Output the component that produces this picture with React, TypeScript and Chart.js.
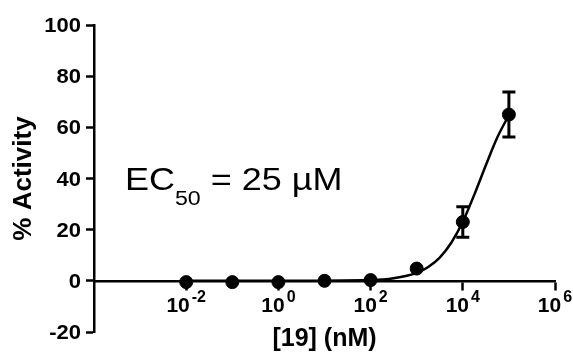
import React, { useEffect, useRef } from 'react';
import { Chart, registerables } from 'chart.js';

Chart.register(...registerables);

// Measured data (concentration in nM, % activity)
const concentrations = [1e-2, 1e-1, 1e0, 1e1, 1e2, 1e3, 1e4, 1e5];
const activity = [-0.5, -0.5, -0.5, 0, 0.3, 4.8, 23, 65];
const activityErr = [0, 0, 0, 0, 0, 0, 6, 8.8];

// Fitted curve
const curveX = [1e-2, 1e0, 1e2, 316, 1e3, 1778, 3162, 5623, 1e4, 17783, 31623, 56234, 1e5];
const curveY = [0, 0, 0.3, 1.0, 3.1, 5.4, 9.1, 14.9, 23.1, 33.7, 45.2, 56.1, 64.8];

// Axis ticks
const xTickValues = [1e-2, 1e0, 1e2, 1e4, 1e6];
const xTickExponents = ['-2', '0', '2', '4', '6'];
const yTickValues = [-20, 0, 20, 40, 60, 80, 100];

const xTitle = '[19] (nM)';
const yTitle = '% Activity';
const annotationMain = 'EC';
const annotationSub = '50';
const annotationRest = ' = 25 µM';

const FONT = '"Liberation Sans", Arial, Helvetica, sans-serif';

function scaledText(ctx: CanvasRenderingContext2D, text: string, x: number, y: number, sx: number) {
  ctx.save();
  ctx.translate(x, y);
  ctx.scale(sx, 1);
  ctx.fillText(text, 0, 0);
  ctx.restore();
}

const overlayPlugin = {
  id: 'overlay',
  afterDatasetsDraw(chart: any) {
    const ctx = chart.ctx;
    const xs = chart.scales.x;
    const ys = chart.scales.y;
    ctx.save();
    ctx.strokeStyle = '#000';
    ctx.lineWidth = 3;
    concentrations.forEach((c, i) => {
      const e = activityErr[i];
      if (!e) return;
      const px = xs.getPixelForValue(c);
      const top = ys.getPixelForValue(activity[i] + e);
      const bot = ys.getPixelForValue(activity[i] - e);
      ctx.beginPath();
      ctx.moveTo(px, top);
      ctx.lineTo(px, bot);
      ctx.moveTo(px - 6.5, top);
      ctx.lineTo(px + 6.5, top);
      ctx.moveTo(px - 6.5, bot);
      ctx.lineTo(px + 6.5, bot);
      ctx.stroke();
    });
    ctx.restore();
  },
  afterDraw(chart: any) {
    const ctx = chart.ctx;
    const xs = chart.scales.x;
    const ys = chart.scales.y;
    const area = chart.chartArea;
    ctx.save();
    ctx.fillStyle = '#000';
    ctx.textBaseline = 'alphabetic';

    // y tick labels
    ctx.font = `bold 20px ${FONT}`;
    ctx.textAlign = 'right';
    ys.ticks.forEach((t: any) => {
      scaledText(ctx, String(t.value), area.left - 13, ys.getPixelForValue(t.value) + 7, 1.1);
    });

    // x tick labels with superscripts
    const axisY = ys.getPixelForValue(0);
    xs.ticks.forEach((t: any, i: number) => {
      const px = xs.getPixelForValue(t.value);
      ctx.font = `bold 21px ${FONT}`;
      const w1 = ctx.measureText('10').width;
      ctx.font = `bold 16px ${FONT}`;
      const exp = xTickExponents[i];
      const w2 = ctx.measureText(exp).width + 2;
      const start = px - (w1 + w2) / 2;
      ctx.textAlign = 'left';
      ctx.font = `bold 21px ${FONT}`;
      ctx.fillText('10', start, axisY + 31);
      ctx.font = `bold 16px ${FONT}`;
      ctx.fillText(exp, start + w1 + 2, axisY + 21);
    });

    // axis titles
    ctx.font = `bold 25px ${FONT}`;
    ctx.textAlign = 'center';
    ctx.fillText(xTitle, (area.left + area.right) / 2, 346);
    ctx.save();
    ctx.translate(31, (area.top + area.bottom) / 2);
    ctx.rotate(-Math.PI / 2);
    ctx.font = `bold 26px ${FONT}`;
    ctx.fillText(yTitle, 0, 0);
    ctx.restore();

    // EC50 annotation
    ctx.save();
    ctx.textAlign = 'left';
    ctx.translate(125, 0);
    ctx.scale(1.16, 1);
    let ax = 0;
    ctx.font = `31px ${FONT}`;
    ctx.fillText(annotationMain, ax, 190);
    ax += ctx.measureText(annotationMain).width;
    ctx.font = `20px ${FONT}`;
    ctx.fillText(annotationSub, ax, 205);
    ax += ctx.measureText(annotationSub).width;
    ctx.font = `31px ${FONT}`;
    ctx.fillText(annotationRest, ax, 190);
    ctx.restore();

    ctx.restore();
  },
};

export default function App() {
  const canvasRef = useRef<HTMLCanvasElement | null>(null);

  useEffect(() => {
    const canvas = canvasRef.current;
    if (!canvas) return;
    const chart = new Chart(canvas, {
      type: 'scatter',
      data: {
        datasets: [
          {
            type: 'line',
            data: curveX.map((x, i) => ({ x, y: curveY[i] })),
            borderColor: '#000',
            borderWidth: 2.5,
            pointRadius: 0,
            cubicInterpolationMode: 'monotone',
            fill: false,
            order: 2,
          } as any,
          {
            type: 'scatter',
            data: concentrations.map((x, i) => ({ x, y: activity[i] })),
            pointRadius: 6.5,
            pointHoverRadius: 6.5,
            backgroundColor: '#000',
            borderColor: '#000',
            order: 1,
          },
        ],
      },
      options: {
        animation: false,
        responsive: false,
        layout: { padding: { top: 25, right: 18, bottom: 20, left: 0 } },
        plugins: { legend: { display: false }, tooltip: { enabled: false } },
        scales: {
          x: {
            type: 'logarithmic',
            min: 1e-4,
            max: 1e6,
            position: { y: 0 } as any,
            afterBuildTicks: (s: any) => {
              s.ticks = xTickValues.map((v) => ({ value: v }));
            },
            ticks: { display: false },
            grid: { drawOnChartArea: false, drawTicks: true, tickLength: 8, tickWidth: 2.5, tickColor: '#000' },
            border: { color: '#000', width: 2.5 },
          },
          y: {
            min: -20,
            max: 100,
            afterBuildTicks: (s: any) => {
              s.ticks = yTickValues.map((v) => ({ value: v }));
            },
            afterFit: (s: any) => {
              s.width = 94;
            },
            ticks: { display: false },
            grid: { drawOnChartArea: false, drawTicks: true, tickLength: 8, tickWidth: 2.5, tickColor: '#000' },
            border: { color: '#000', width: 2.5 },
          },
        },
      },
      plugins: [overlayPlugin],
    });
    return () => chart.destroy();
  }, []);

  return (
    <div style={{ position: 'fixed', left: 0, top: 0, width: 573, height: 352, background: '#fff' }}>
      <canvas ref={canvasRef} width={573} height={352} style={{ width: 573, height: 352 }} />
    </div>
  );
}
